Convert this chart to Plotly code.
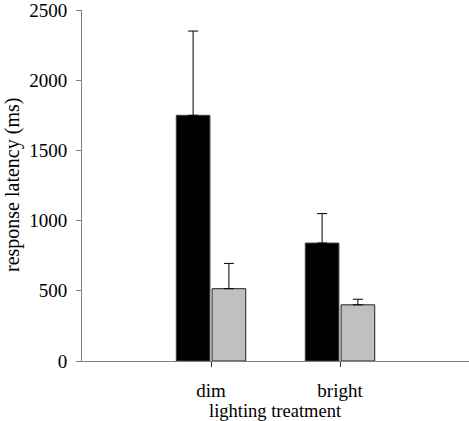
import plotly.graph_objects as go

categories = ["dim", "bright"]
series_a = [1750, 840]
series_a_err = [600, 210]
series_b = [515, 400]
series_b_err = [180, 40]
y_ticks = [0, 500, 1000, 1500, 2000, 2500]

font = "Liberation Serif"

fig = go.Figure()
fig.add_trace(go.Bar(
    x=[0, 1], y=series_a, marker=dict(color="black", line=dict(color="#404040", width=1)),
    error_y=dict(type="data", symmetric=False, array=series_a_err, arrayminus=[0, 0],
                 color="black", thickness=1, width=5),
))
fig.add_trace(go.Bar(
    x=[0, 1], y=series_b, marker=dict(color="#c0c0c0", line=dict(color="#202020", width=1)),
    error_y=dict(type="data", symmetric=False, array=series_b_err, arrayminus=[0, 0],
                 color="black", thickness=1, width=5),
))

# plot area spans page x 82..469, y 10..361
fig.update_layout(
    width=469, height=421,
    margin=dict(l=82, r=0, t=10, b=60),
    paper_bgcolor="white", plot_bgcolor="white",
    showlegend=False, barmode="group", bargap=0.445, bargroupgap=0.06,
    font=dict(family=font, size=19, color="black"),
    hovermode=False,
    xaxis=dict(range=[-1, 2], tickmode="array", tickvals=[0, 1], ticktext=categories,
               showline=True, linecolor="#808080", linewidth=1,
               ticks="outside", ticklen=5, tickcolor="#303030", showgrid=False, zeroline=False,
               ticklabelstandoff=7, tickfont=dict(family=font, size=19)),
    yaxis=dict(range=[0, 2500], tickvals=y_ticks, showline=True, linecolor="#808080", linewidth=1,
               ticks="outside", ticklen=5, tickcolor="#808080", showgrid=False, zeroline=False,
               ticklabelstandoff=5, ticklabeloverflow="allow", tickfont=dict(family=font, size=19)),
    annotations=[
        dict(text="response latency (ms)", xref="paper", yref="paper", x=-83/387, y=0.5,
             xanchor="left", yanchor="middle", textangle=-90, showarrow=False,
             font=dict(family=font, size=20)),
        dict(text="lighting treatment", xref="paper", yref="paper", x=0.5, y=-50/351,
             xanchor="center", yanchor="middle", showarrow=False,
             font=dict(family=font, size=18.5)),
    ],
)

fig.write_html("out.html", config={"displayModeBar": False},
               post_script="document.body.style.margin='0px';document.body.style.overflow='hidden';")
